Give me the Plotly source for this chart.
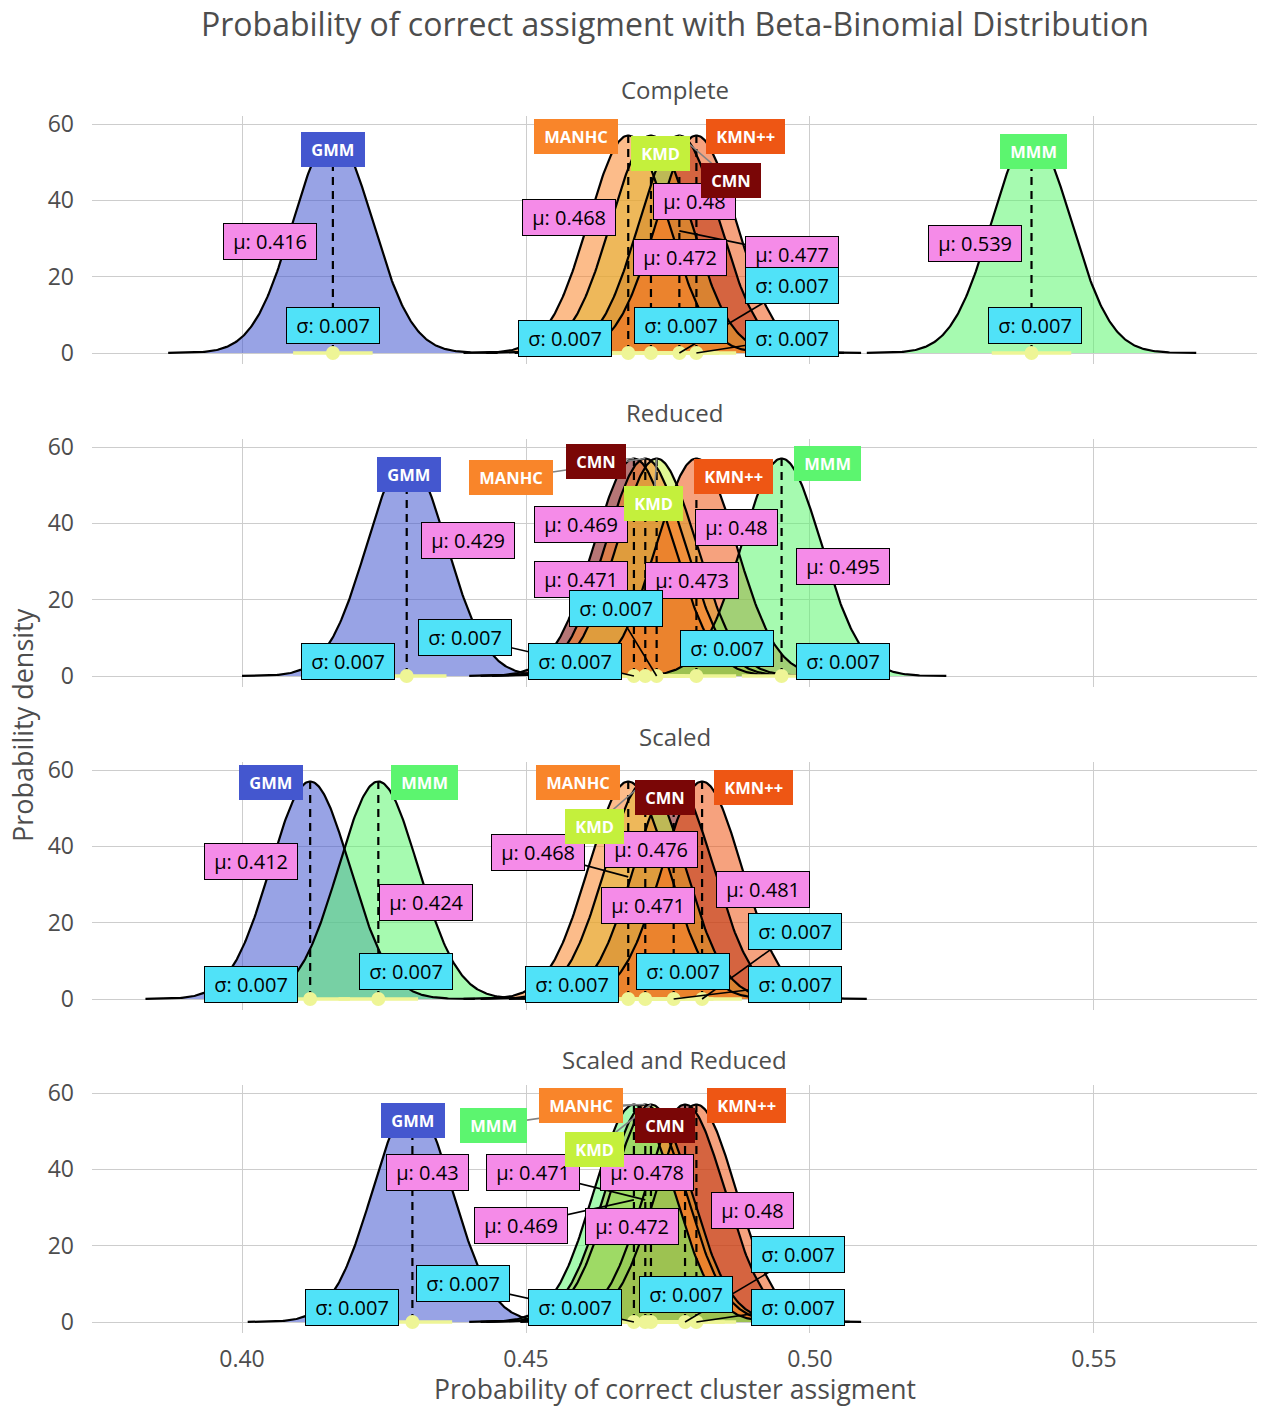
import numpy as np
import plotly.graph_objects as go

# ---------------- data ----------------
title_text = "Probability of correct assigment with Beta-Binomial Distribution"
facets = ["Complete", "Reduced", "Scaled", "Scaled and Reduced"]
methods = ["CMN", "GMM", "KMD", "KMN++", "MANHC", "MMM"]

mu_complete = [0.477, 0.416, 0.472, 0.480, 0.468, 0.539]
mu_reduced = [0.469, 0.429, 0.473, 0.480, 0.471, 0.495]
mu_scaled = [0.476, 0.412, 0.471, 0.481, 0.468, 0.424]
mu_scaled_reduced = [0.478, 0.430, 0.472, 0.480, 0.471, 0.469]

sd_complete = [0.007, 0.007, 0.007, 0.007, 0.007, 0.007]
sd_reduced = [0.007, 0.007, 0.007, 0.007, 0.007, 0.007]
sd_scaled = [0.007, 0.007, 0.007, 0.007, 0.007, 0.007]
sd_scaled_reduced = [0.007, 0.007, 0.007, 0.007, 0.007, 0.007]

x_ticks = [0.40, 0.45, 0.50, 0.55]
x_tick_labels = ["0.40", "0.45", "0.50", "0.55"]
y_ticks = [0, 20, 40, 60]
y_tick_labels = ["0", "20", "40", "60"]

mus = [mu_complete, mu_reduced, mu_scaled, mu_scaled_reduced]
sds = [sd_complete, sd_reduced, sd_scaled, sd_scaled_reduced]

# ---------------- styles ----------------
method_colors = {
    "CMN": (122, 6, 6),
    "GMM": (68, 87, 207),
    "KMD": (196, 240, 60),
    "KMN++": (238, 86, 20),
    "MANHC": (249, 133, 42),
    "MMM": (92, 245, 111),
}
fill_alpha = 0.55
dot_color = "rgb(238,245,150)"
mu_bg = "rgb(245,139,232)"
sd_bg = "rgb(80,226,248)"
font_family = "Open Sans"
text_gray = "rgb(77,77,77)"
grid_color = "rgb(205,205,205)"

# ---------------- label layout (data coords per facet, order = methods) ----------------
name_pos = [
    [(0.4861, 45.3), (0.4160, 53.2), (0.4736, 52.4), (0.4887, 56.6), (0.4588, 56.6), (0.5394, 52.7)],
    [(0.4623, 56.3), (0.4294, 52.9), (0.4725, 45.3), (0.4866, 52.4), (0.4474, 51.9), (0.5030, 55.8)],
    [(0.4745, 52.7), (0.4051, 56.6), (0.4620, 45.3), (0.4900, 55.5), (0.4592, 56.6), (0.4322, 56.6)],
    [(0.4745, 51.6), (0.4301, 52.9), (0.4620, 45.3), (0.4889, 56.6), (0.4597, 56.6), (0.4442, 51.6)],
]
name_seg = [
    [1, 0, 0, 0, 0, 0],
    [1, 0, 1, 0, 1, 0],
    [0, 0, 1, 0, 0, 0],
    [0, 0, 1, 0, 1, 1],
]
mu_pos = [
    [(0.4968, 25.9), (0.4049, 29.1), (0.4771, 24.9), (0.4796, 39.6), (0.4576, 35.4), (0.5290, 28.8)],
    [(0.4597, 39.6), (0.4398, 35.6), (0.4792, 24.9), (0.4870, 39.0), (0.4597, 25.4), (0.5058, 28.6)],
    [(0.4720, 39.3), (0.4016, 35.9), (0.4715, 24.6), (0.4917, 28.6), (0.4521, 38.3), (0.4324, 25.2)],
    [(0.4713, 39.3), (0.4326, 39.3), (0.4687, 24.9), (0.4898, 29.3), (0.4512, 39.3), (0.4491, 25.4)],
]
mu_seg = [
    [1, 0, 0, 0, 0, 0],
    [0, 0, 0, 0, 0, 0],
    [0, 0, 0, 0, 1, 0],
    [0, 0, 0, 0, 1, 1],
]
sd_pos = [
    [(0.4968, 17.6), (0.4160, 7.1), (0.4773, 7.1), (0.4968, 3.9), (0.4569, 3.9), (0.5396, 7.1)],
    [(0.4393, 10.2), (0.4187, 3.9), (0.4658, 17.6), (0.4854, 7.1), (0.4586, 3.9), (0.5058, 3.9)],
    [(0.4974, 3.9), (0.4016, 3.9), (0.4776, 7.1), (0.4974, 17.6), (0.4581, 3.9), (0.4289, 7.1)],
    [(0.4979, 17.6), (0.4194, 3.9), (0.4782, 7.1), (0.4979, 3.9), (0.4586, 3.9), (0.4389, 10.0)],
]
sd_seg = [
    [1, 0, 0, 1, 0, 0],
    [1, 0, 1, 0, 0, 0],
    [1, 0, 0, 1, 0, 0],
    [1, 0, 0, 1, 0, 1],
]
mu_anchor_y = 32
curve_halfwidth = 0.029

# ---------------- geometry ----------------
W, H = 1263, 1409
ML, MR, MT, MB = 92, 6, 116, 76
PH, GAP = 248, 75
plot_h = H - MT - MB
plot_w = W - ML - MR
x_range = [0.37359, 0.57870]
y_range = [-2.88, 62.10]


def ydom(r):
    top = MT + r * (PH + GAP)
    bot = top + PH
    return [(H - MB - bot) / plot_h, (H - MB - top) / plot_h], top


def rgba(c, a):
    return "rgba(%d,%d,%d,%.3f)" % (c[0], c[1], c[2], a)


fig = go.Figure()
annotations = []
layout_axes = {}

for r, facet in enumerate(facets):
    xs = "x" if r == 0 else "x%d" % (r + 1)
    ys = "y" if r == 0 else "y%d" % (r + 1)
    mu_list, sd_list = mus[r], sds[r]

    curves = []
    for m, mu, sd in zip(methods, mu_list, sd_list):
        xx = np.linspace(mu - curve_halfwidth, mu + curve_halfwidth, 300)
        yy = np.exp(-0.5 * ((xx - mu) / sd) ** 2) / (sd * np.sqrt(2 * np.pi))
        curves.append((xx, yy))

    # fills
    for m, (xx, yy) in zip(methods, curves):
        fig.add_trace(go.Scatter(x=xx, y=yy, mode="lines", fill="tozeroy",
                                 fillcolor=rgba(method_colors[m], fill_alpha),
                                 line=dict(width=0, color="rgba(0,0,0,0)"),
                                 xaxis=xs, yaxis=ys, showlegend=False, hoverinfo="skip"))
    # outlines
    for m, (xx, yy) in zip(methods, curves):
        fig.add_trace(go.Scatter(x=xx, y=yy, mode="lines",
                                 line=dict(width=2.2, color="black"),
                                 xaxis=xs, yaxis=ys, showlegend=False, hoverinfo="skip"))
    # dashed mean lines
    for m, mu, sd in zip(methods, mu_list, sd_list):
        peak = 1.0 / (sd * np.sqrt(2 * np.pi))
        fig.add_trace(go.Scatter(x=[mu, mu], y=[0, peak], mode="lines",
                                 line=dict(width=2.2, color="black", dash="8px,6px"),
                                 xaxis=xs, yaxis=ys, showlegend=False, hoverinfo="skip"))
    # +/- sigma segments
    for m, mu, sd in zip(methods, mu_list, sd_list):
        fig.add_trace(go.Scatter(x=[mu - sd, mu + sd], y=[0, 0], mode="lines",
                                 line=dict(width=3.5, color=dot_color),
                                 xaxis=xs, yaxis=ys, showlegend=False, hoverinfo="skip"))
    # mean dots
    fig.add_trace(go.Scatter(x=mu_list, y=[0] * len(mu_list), mode="markers",
                             marker=dict(size=14, color=dot_color),
                             xaxis=xs, yaxis=ys, showlegend=False, hoverinfo="skip", cliponaxis=False))
    # label segments
    for i, (m, mu, sd) in enumerate(zip(methods, mu_list, sd_list)):
        peak = 1.0 / (sd * np.sqrt(2 * np.pi))
        if name_seg[r][i]:
            lx, ly = name_pos[r][i]
            fig.add_trace(go.Scatter(x=[lx, mu], y=[ly, peak], mode="lines",
                                     line=dict(width=1.6, color="rgb(130,130,130)"),
                                     xaxis=xs, yaxis=ys, showlegend=False, hoverinfo="skip"))
        if mu_seg[r][i]:
            lx, ly = mu_pos[r][i]
            fig.add_trace(go.Scatter(x=[lx, mu], y=[ly, mu_anchor_y], mode="lines",
                                     line=dict(width=1.6, color="black"),
                                     xaxis=xs, yaxis=ys, showlegend=False, hoverinfo="skip"))
        if sd_seg[r][i]:
            lx, ly = sd_pos[r][i]
            fig.add_trace(go.Scatter(x=[lx, mu], y=[ly, 0], mode="lines",
                                     line=dict(width=1.6, color="black"),
                                     xaxis=xs, yaxis=ys, showlegend=False, hoverinfo="skip"))

    # label boxes
    for i, (m, mu, sd) in enumerate(zip(methods, mu_list, sd_list)):
        lx, ly = mu_pos[r][i]
        annotations.append(dict(x=lx, y=ly, xref=xs, yref=ys, showarrow=False,
                                text="\u00a0μ: %s\u00a0" % ("%g" % round(mu, 3)),
                                font=dict(family=font_family, size=20, color="black"),
                                bgcolor=mu_bg, bordercolor="black", borderwidth=1, borderpad=4))
    for i, (m, mu, sd) in enumerate(zip(methods, mu_list, sd_list)):
        lx, ly = sd_pos[r][i]
        annotations.append(dict(x=lx, y=ly, xref=xs, yref=ys, showarrow=False,
                                text="\u00a0σ: %s\u00a0" % ("%g" % round(sd, 3)),
                                font=dict(family=font_family, size=20, color="black"),
                                bgcolor=sd_bg, bordercolor="black", borderwidth=1, borderpad=4))
    for i, m in enumerate(methods):
        lx, ly = name_pos[r][i]
        annotations.append(dict(x=lx, y=ly, xref=xs, yref=ys, showarrow=False,
                                text="<b>\u00a0%s\u00a0</b>" % m,
                                font=dict(family=font_family, size=16.5, color="white"),
                                bgcolor=rgba(method_colors[m], 1.0), borderwidth=0, borderpad=6))

    dom, top_px = ydom(r)
    # strip title
    annotations.append(dict(x=0.5, y=(H - MB - (top_px - 26)) / plot_h, xref="paper", yref="paper",
                            text=facet, showarrow=False, xanchor="center", yanchor="middle",
                            font=dict(family=font_family, size=24, color=text_gray)))

    xkey = "xaxis" if r == 0 else "xaxis%d" % (r + 1)
    ykey = "yaxis" if r == 0 else "yaxis%d" % (r + 1)
    layout_axes[xkey] = dict(domain=[0, 1], anchor=ys, range=x_range, tickvals=x_ticks,
                             ticktext=x_tick_labels, showticklabels=(r == 3),
                             showgrid=True, gridcolor=grid_color, gridwidth=1.4,
                             zeroline=False, showline=False, ticks="",
                             ticklabelstandoff=10,
                             tickfont=dict(family=font_family, size=23, color=text_gray))
    layout_axes[ykey] = dict(domain=dom, anchor=xs, range=y_range, tickvals=y_ticks,
                             ticktext=y_tick_labels,
                             showgrid=True, gridcolor=grid_color, gridwidth=1.4,
                             zeroline=False, showline=False, ticks="",
                             ticklabelstandoff=17,
                             tickfont=dict(family=font_family, size=23, color=text_gray))

# title and axis titles
annotations.append(dict(x=0.5, y=1 + (MT - 23) / plot_h, xref="paper", yref="paper",
                        text=title_text, showarrow=False, xanchor="center", yanchor="middle",
                        font=dict(family=font_family, size=32, color=text_gray)))
annotations.append(dict(x=0.5, y=(H - MB - 1389) / plot_h, xref="paper", yref="paper",
                        text="Probability of correct cluster assigment", showarrow=False,
                        xanchor="center", yanchor="middle",
                        font=dict(family=font_family, size=26.5, color=text_gray)))
annotations.append(dict(x=(22 - ML) / plot_w, y=(H - MB - 725) / plot_h, xref="paper", yref="paper",
                        text="Probability density", showarrow=False, textangle=-90,
                        xanchor="center", yanchor="middle",
                        font=dict(family=font_family, size=27, color=text_gray)))

fig.update_layout(width=W, height=H, margin=dict(l=ML, r=MR, t=MT, b=MB),
                  paper_bgcolor="white", plot_bgcolor="white",
                  showlegend=False, annotations=annotations, **layout_axes)

fig.write_html("out.html")
